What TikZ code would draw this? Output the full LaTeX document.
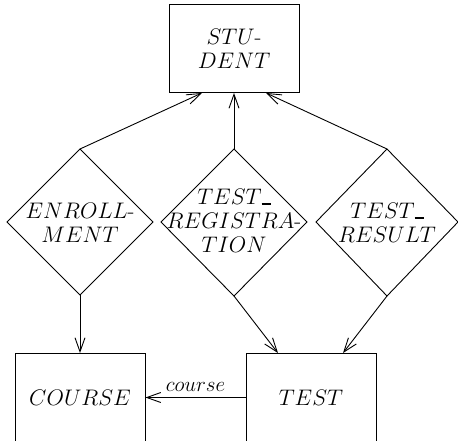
\RequirePackage{fix-cm}
\documentclass[tikz,border=0pt]{standalone}
\usetikzlibrary{arrows.meta,calc}
\newcommand{\usc}{\rule[0pt]{9pt}{1.6pt}}
\tikzset{
  ent/.style={draw, line width=0.9pt, minimum width=130pt, minimum height=88pt, inner sep=0pt, align=center, font=\fontsize{22.5}{24}\selectfont},
  reltext/.style={inner sep=0pt, align=center, font=\fontsize{22.5}{24}\selectfont},
  rel/.style={draw, line width=0.9pt, line join=miter},
  conn/.style={line width=0.9pt, -{Straight Barb[length=14pt,width=10pt,line width=0.9pt]}},
  lbl/.style={inner sep=0pt, font=\fontsize{21}{22}\selectfont}
}
\begin{document}
\begin{tikzpicture}[x=1pt,y=-1pt]
\useasboundingbox (0,0) rectangle (458,440);
\clip (0,0) rectangle (458,440);
% entities
\node[ent] (student) at (234,48.5) {$STU$-\\$DENT$};
\node[ent] (course) at (80,397.5) {$COURSE$};
\node[ent] (test) at (311,397.5) {$TEST$};
% relationship diamonds
\coordinate (enT) at (80,149); \coordinate (enB) at (80,295);
\coordinate (trT) at (234,149); \coordinate (trB) at (234,296);
\coordinate (rsT) at (387,149); \coordinate (rsB) at (387,296);
\draw[rel] (enT) -- (153,222) -- (enB) -- (7,222) -- cycle;
\draw[rel] (trT) -- (307,222) -- (trB) -- (161,222) -- cycle;
\draw[rel] (rsT) -- (458,222) -- (rsB) -- (316,222) -- cycle;
\node[reltext] (enroll) at (80,223) {$ENROLL$-\\$MENT$};
\node[reltext] (treg) at (234,221) {$TEST$\usc\\$REGISTRA$-\\$TION$};
\node[reltext] (tres) at (387,223) {$TEST$\usc\\$RESULT$};
% connectors
\coordinate (s1) at ($(student.south)+(-32,0)$);
\coordinate (s3) at ($(student.south)+(32,0)$);
\coordinate (t1) at ($(test.north)+(-33,0)$);
\coordinate (t2) at ($(test.north)+(32,0)$);
\draw[conn] (enT) -- (s1);
\draw[conn] (trT) -- (student.south);
\draw[conn] (rsT) -- (s3);
\draw[conn] (enB) -- (course.north);
\draw[conn] (trB) -- (t1);
\draw[conn] (rsB) -- (t2);
\draw[conn] (test.west) -- node[lbl, above=6pt] (clbl) {$course$} (course.east);
\end{tikzpicture}
\end{document}
